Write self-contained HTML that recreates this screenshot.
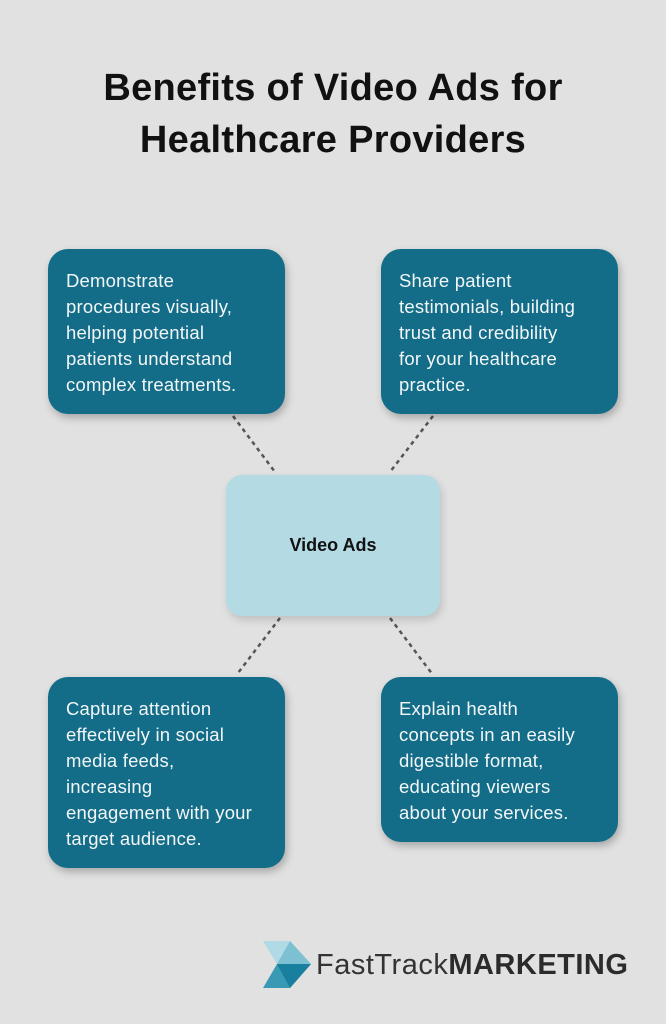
<!DOCTYPE html>
<html><head><style>
body{margin:0;width:666px;height:1024px;background:#e0e1e0;font-family:"Liberation Sans",sans-serif;position:relative;overflow:hidden}
.t{position:absolute;left:0;width:666px;text-align:center;font-weight:bold;font-size:38px;color:#111;line-height:52px;top:62px;letter-spacing:0.3px}
.b{position:absolute;background:#136d88;color:#f2f6f7;border-radius:20px;font-size:18.5px;line-height:26px;padding:19px 0 0 18px;box-sizing:border-box;box-shadow:2px 4px 8px rgba(0,0,0,.25);white-space:nowrap;letter-spacing:0.2px}
.c{position:absolute;left:226px;top:475px;width:214px;height:141px;background:#b4dae4;border-radius:16px;display:flex;align-items:center;justify-content:center;font-weight:bold;font-size:18px;color:#111;box-shadow:2px 4px 8px rgba(0,0,0,.15)}
</style></head><body>
<div class="t">Benefits of Video Ads for<br>Healthcare Providers</div>
<svg style="position:absolute;left:0;top:0" width="666" height="1024">
<g stroke="#555" stroke-width="2.5" stroke-dasharray="4,4">
<line x1="233" y1="416" x2="275" y2="472"/>
<line x1="433" y1="416" x2="390" y2="472"/>
<line x1="280" y1="618" x2="238" y2="673"/>
<line x1="390" y1="618" x2="433" y2="675"/>
</g>
<polygon points="263,941 290,941 311,964 277,964" fill="#b0dbe6"/>
<polygon points="277,964 311,964 290,988 263,988" fill="#3a9ab5"/>
<polygon points="277,964 311,964 290,941" fill="#7cc0d2"/>
<polygon points="277,964 311,964 290,988" fill="#18809e"/>
</svg>
<div class="b" style="left:48px;top:249px;width:237px;height:165px">Demonstrate<br>procedures visually,<br>helping potential<br>patients understand<br>complex treatments.</div>
<div class="b" style="left:381px;top:249px;width:237px;height:165px">Share patient<br>testimonials, building<br>trust and credibility<br>for your healthcare<br>practice.</div>
<div class="c">Video Ads</div>
<div class="b" style="left:48px;top:677px;width:237px;height:191px">Capture attention<br>effectively in social<br>media feeds,<br>increasing<br>engagement with your<br>target audience.</div>
<div class="b" style="left:381px;top:677px;width:237px;height:165px">Explain health<br>concepts in an easily<br>digestible format,<br>educating viewers<br>about your services.</div>
<div style="position:absolute;left:316px;top:949px;font-size:29px;color:#333;letter-spacing:0.5px;white-space:nowrap">FastTrack<b style="color:#2b2b2b">MARKETING</b></div>
</body></html>
